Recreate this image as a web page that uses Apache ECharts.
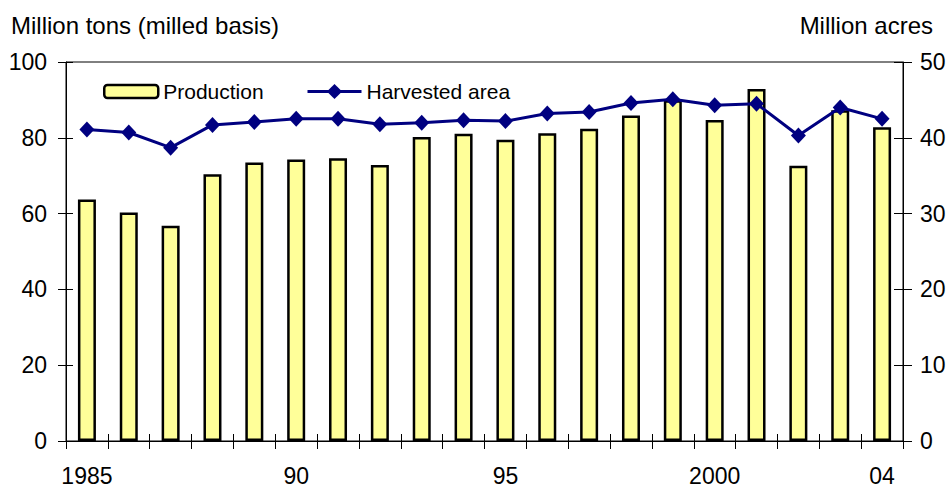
<!DOCTYPE html>
<html>
<head>
<meta charset="utf-8">
<script src="https://cdn.jsdelivr.net/npm/echarts@6/dist/echarts.min.js"></script>
<style>
  html, body { margin: 0; padding: 0; background: #fff; }
  #chart { width: 950px; height: 487px; }
</style>
</head>
<body>
<div id="chart"></div>
<script>
// Rice: production (million tons, milled basis) and harvested area (million acres)
const years = ['1985','1986','1987','1988','1989','1990','1991','1992','1993','1994',
               '1995','1996','1997','1998','1999','2000','2001','2002','2003','2004'];
const yearLabels = ['1985','','','','','90','','','','',
                    '95','','','','','2000','','','','04'];
const production = [63.7, 60.3, 56.8, 70.4, 73.5, 74.3, 74.6, 72.8, 80.2, 81.1,
                    79.5, 81.2, 82.4, 85.9, 89.9, 84.7, 92.9, 72.6, 87.3, 82.8];
const harvestedArea = [41.1, 40.7, 38.7, 41.7, 42.1, 42.5, 42.5, 41.8, 42.0, 42.3,
                       42.2, 43.2, 43.4, 44.6, 45.1, 44.3, 44.5, 40.3, 44.0, 42.5];
const leftTicks = { min: 0, max: 100, interval: 20 };
const rightTicks = { min: 0, max: 50, interval: 10 };

const FONT = 'Liberation Sans, Arial, sans-serif';
const NAVY = '#000080';
const chart = echarts.init(document.getElementById('chart'), null, { renderer: 'svg' });

const tickStyle = { color: '#000', width: 1 };
const labelIndex = (v) => yearLabels[years.indexOf(v)];
const legendText = { fontFamily: FONT, fontSize: 21, color: '#000' };

chart.setOption({
  animation: false,
  backgroundColor: '#fff',
  textStyle: { fontFamily: FONT },
  grid: {
    left: 66, right: 47, top: 62, bottom: 45,
    show: true, borderColor: '#000', borderWidth: 1
  },
  legend: [
    {
      left: 103, top: 81, padding: 0,
      itemWidth: 54, itemHeight: 13,
      textStyle: legendText,
      data: [{ name: 'Production',
               itemStyle: { color: '#FFFF99', borderColor: '#000', borderWidth: 2.5 } }]
    },
    {
      left: 306, top: 81, padding: 0,
      itemWidth: 54, itemHeight: 19,
      textStyle: legendText,
      data: [{ name: 'Harvested area',
               lineStyle: { color: NAVY, width: 3 },
               itemStyle: { color: NAVY } }]
    }
  ],
  graphic: [
    { type: 'text', left: 11, top: 13,
      style: { text: 'Million tons (milled basis)', font: '24px ' + FONT, fill: '#000' } },
    { type: 'text', right: 17, top: 13,
      style: { text: 'Million acres', font: '24px ' + FONT, fill: '#000' } }
  ],
  xAxis: [
    {
      type: 'category', data: years, position: 'bottom',
      axisLine: { lineStyle: { color: '#000', width: 1 } },
      axisTick: { show: true, interval: 0, length: 8, lineStyle: tickStyle },
      axisLabel: { interval: 0, margin: 23, fontSize: 23, color: '#000', fontFamily: FONT,
                   formatter: labelIndex },
      splitLine: { show: false }
    },
    {
      type: 'category', data: years, position: 'bottom',
      axisLine: { show: false },
      axisTick: { show: true, inside: true, interval: 0, length: 7, lineStyle: tickStyle },
      axisLabel: { show: false },
      splitLine: { show: false }
    }
  ],
  yAxis: [
    {
      type: 'value', position: 'left', ...leftTicks,
      axisLine: { show: true, lineStyle: { color: '#000', width: 1 } },
      axisTick: { show: true, length: 8, lineStyle: tickStyle },
      axisLabel: { margin: 19, fontSize: 23, color: '#000', fontFamily: FONT },
      splitLine: { show: false }
    },
    {
      type: 'value', position: 'right', ...rightTicks,
      axisLine: { show: true, lineStyle: { color: '#000', width: 1 } },
      axisTick: { show: true, length: 9, lineStyle: tickStyle },
      axisLabel: { margin: 17, fontSize: 23, color: '#000', fontFamily: FONT },
      splitLine: { show: false }
    },
    {
      type: 'value', position: 'left', ...leftTicks,
      axisLine: { show: false },
      axisTick: { show: true, inside: true, length: 7, lineStyle: tickStyle },
      axisLabel: { show: false },
      splitLine: { show: false }
    },
    {
      type: 'value', position: 'right', ...rightTicks,
      axisLine: { show: false },
      axisTick: { show: true, inside: true, length: 9, lineStyle: tickStyle },
      axisLabel: { show: false },
      splitLine: { show: false }
    }
  ],
  series: [
    {
      name: 'Production', type: 'bar', xAxisIndex: 0, yAxisIndex: 0,
      data: production, barWidth: '43%',
      itemStyle: { color: '#FFFF99', borderColor: '#000', borderWidth: 2.5 }
    },
    {
      name: 'Harvested area', type: 'line', xAxisIndex: 0, yAxisIndex: 1,
      data: harvestedArea,
      symbol: 'diamond', symbolSize: [15, 16],
      lineStyle: { color: NAVY, width: 3 },
      itemStyle: { color: NAVY }
    }
  ]
});
</script>
</body>
</html>
